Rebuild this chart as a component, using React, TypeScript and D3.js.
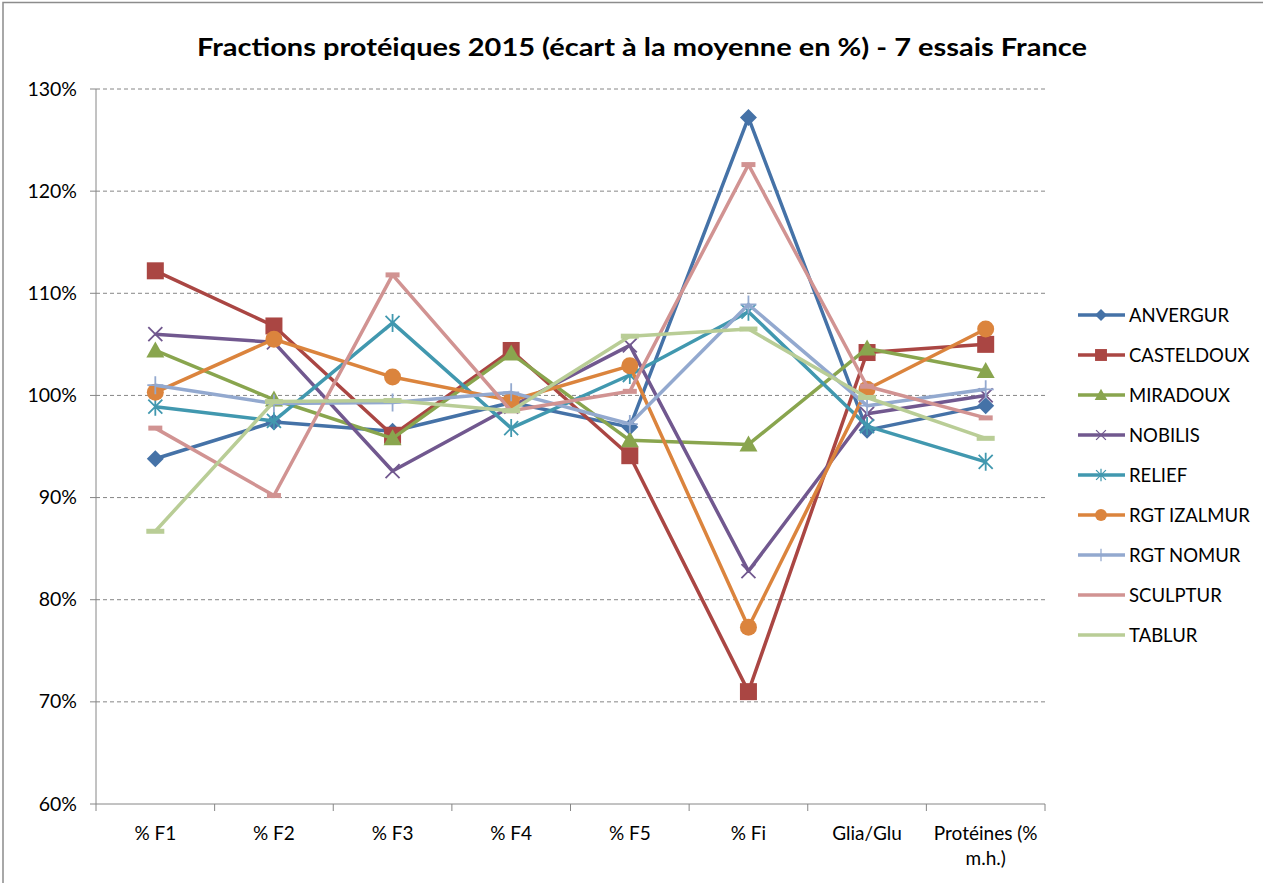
import * as d3 from 'd3';

const categories = ['% F1', '% F2', '% F3', '% F4', '% F5', '% Fi', 'Glia/Glu', 'Protéines (%|m.h.)'];
const seriesNames = ['ANVERGUR', 'CASTELDOUX', 'MIRADOUX', 'NOBILIS', 'RELIEF', 'RGT IZALMUR', 'RGT NOMUR', 'SCULPTUR', 'TABLUR'];
const seriesColors = ['#4572A7', '#AA4643', '#89A54E', '#71588F', '#4198AF', '#DB843D', '#93A9CF', '#D19392', '#B9CD96'];
const seriesMarkers = ['diamond', 'square', 'triangle', 'x', 'star', 'circle', 'plus', 'shortdash', 'dash'];

const anvergur = [93.8, 97.4, 96.5, 99.3, 96.9, 127.2, 96.6, 99.0];
const casteldoux = [112.2, 106.8, 96.1, 104.4, 94.1, 71.0, 104.2, 105.0];
const miradoux = [104.4, 99.6, 95.8, 104.1, 95.6, 95.2, 104.6, 102.4];
const nobilis = [106.0, 105.2, 92.6, 98.9, 104.9, 82.8, 98.2, 100.0];
const relief = [98.9, 97.5, 107.1, 96.8, 102.0, 108.2, 97.0, 93.5];
const rgtIzalmur = [100.3, 105.5, 101.8, 99.5, 102.9, 77.3, 100.6, 106.5];
const rgtNomur = [101.0, 99.2, 99.3, 100.3, 97.2, 108.9, 99.0, 100.6];
const sculptur = [96.8, 90.2, 111.8, 98.5, 100.4, 122.6, 100.9, 97.8];
const tablur = [86.7, 99.4, 99.5, 98.5, 105.8, 106.5, 99.8, 95.8];
const seriesValues = [anvergur, casteldoux, miradoux, nobilis, relief, rgtIzalmur, rgtNomur, sculptur, tablur];

const yTicks = [60, 70, 80, 90, 100, 110, 120, 130];

const W = 1263;
const H = 883;
const plotLeft = 96;
const plotRight = 1045;
const plotTop = 89;
const plotBottom = 804;
const font = 'Lato, "Open Sans", sans-serif';

const x = d3.scaleBand().domain(categories).range([plotLeft, plotRight]);
const y = d3.scaleLinear().domain([60, 130]).range([plotBottom, plotTop]);

function Marker({ type, color, cx, cy, k = 1 }) {
  const t = `translate(${cx},${cy}) scale(${k})`;
  if (type === 'diamond') {
    return <path transform={t} d="M0,-8.5L8.5,0L0,8.5L-8.5,0Z" fill={color} />;
  }
  if (type === 'square') {
    return <rect transform={t} x={-8.5} y={-8.5} width={17} height={17} fill={color} />;
  }
  if (type === 'triangle') {
    return <path transform={t} d="M0,-9L9,7L-9,7Z" fill={color} />;
  }
  if (type === 'circle') {
    return <circle transform={t} r={8.5} fill={color} />;
  }
  if (type === 'x') {
    return <path transform={t} d="M-7,-7L7,7M-7,7L7,-7" stroke={color} strokeWidth={1.8} fill="none" />;
  }
  if (type === 'star') {
    return <path transform={t} d="M-7,-7L7,7M-7,7L7,-7M0,-9L0,9" stroke={color} strokeWidth={1.8} fill="none" />;
  }
  if (type === 'plus') {
    return <path transform={t} d="M-8,0L8,0M0,-9L0,9" stroke={color} strokeWidth={1.8} fill="none" />;
  }
  if (type === 'shortdash') {
    return <rect transform={t} x={-7} y={-2.5} width={14} height={5} fill={color} />;
  }
  if (type === 'dash') {
    return <rect transform={t} x={-9} y={-2.5} width={18} height={5} fill={color} />;
  }
  return null;
}

export default function App() {
  const line = d3
    .line<number>()
    .x((d, i) => x(categories[i]) + x.bandwidth() / 2)
    .y((d) => y(d));

  const legendTop = 315;
  const legendStep = 40;

  return (
    <svg
      width={W}
      height={H}
      style={{ position: 'absolute', left: 0, top: 0, background: '#fff' }}
    >
      <rect x={3} y={2.5} width={W + 10} height={H + 10} fill="#fff" stroke="#8c8c8c" strokeWidth={1.5} />
      <text
        x={642}
        y={56}
        textAnchor="middle"
        fontFamily={font}
        fontWeight="bold"
        fontSize={24}
        textLength={890}
        lengthAdjust="spacingAndGlyphs"
        fill="#000"
      >
        Fractions protéiques 2015 (écart à la moyenne en %) - 7 essais France
      </text>

      {/* gridlines */}
      {yTicks.map((t) => (
        <g key={t}>
          {t > 60 && (
            <line x1={plotLeft} x2={plotRight} y1={y(t)} y2={y(t)} stroke="#868686" strokeDasharray="4,3" strokeWidth={1} />
          )}
          <line x1={plotLeft - 6} x2={plotLeft} y1={y(t)} y2={y(t)} stroke="#868686" />
          <text x={77} y={y(t) + 6.5} textAnchor="end" fontFamily={font} fontSize={19.5} fill="#000">
            {t}%
          </text>
        </g>
      ))}

      {/* axes */}
      <line x1={plotLeft} x2={plotLeft} y1={plotTop} y2={plotBottom} stroke="#868686" />
      <line x1={plotLeft} x2={plotRight} y1={plotBottom} y2={plotBottom} stroke="#868686" />
      {categories.map((c, i) => (
        <line key={'tk' + i} x1={x(c) + x.bandwidth()} x2={x(c) + x.bandwidth()} y1={plotBottom} y2={plotBottom + 7} stroke="#868686" />
      ))}
      <line x1={plotLeft} x2={plotLeft} y1={plotBottom} y2={plotBottom + 7} stroke="#868686" />
      {categories.map((c) => {
        const parts = c.split('|');
        return (
          <text key={c} x={x(c) + x.bandwidth() / 2} y={840} textAnchor="middle" fontFamily={font} fontSize={19} fill="#000">
            {parts.map((p, j) => (
              <tspan key={j} x={x(c) + x.bandwidth() / 2} dy={j === 0 ? 0 : 25}>
                {p}
              </tspan>
            ))}
          </text>
        );
      })}

      {/* series */}
      {seriesValues.map((vals, s) => (
        <g key={seriesNames[s]}>
          <path d={line(vals)} fill="none" stroke={seriesColors[s]} strokeWidth={3.5} strokeLinejoin="round" />
          {vals.map((v, i) => (
            <Marker
              key={i}
              type={seriesMarkers[s]}
              color={seriesColors[s]}
              cx={x(categories[i]) + x.bandwidth() / 2}
              cy={y(v)}
            />
          ))}
        </g>
      ))}

      {/* legend */}
      {seriesNames.map((name, s) => {
        const ly = legendTop + s * legendStep;
        return (
          <g key={'lg' + name}>
            <line x1={1078} x2={1125} y1={ly} y2={ly} stroke={seriesColors[s]} strokeWidth={3.5} />
            {s < 7 && <Marker type={seriesMarkers[s]} color={seriesColors[s]} cx={1101} cy={ly} k={0.7} />}
            <text x={1129} y={ly + 7} fontFamily={font} fontSize={18.5} fill="#000">
              {name}
            </text>
          </g>
        );
      })}
    </svg>
  );
}
